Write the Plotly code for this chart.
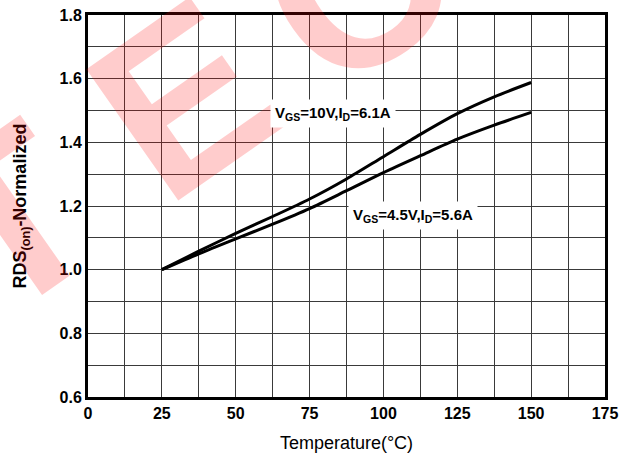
import plotly.graph_objects as go

temps = [25, 37.5, 50, 62.5, 75, 87.5, 100, 112.5, 125, 137.5, 150]
rds_10v = [1.000, 1.058, 1.114, 1.167, 1.222, 1.285, 1.355, 1.425, 1.490, 1.543, 1.588]
rds_45v = [1.000, 1.050, 1.097, 1.143, 1.192, 1.248, 1.305, 1.358, 1.410, 1.454, 1.494]

x_ticks = [0, 25, 50, 75, 100, 125, 150, 175]
y_ticks = [0.6, 0.8, 1.0, 1.2, 1.4, 1.6, 1.8]
y_tick_text = ["0.6", "0.8", "1.0", "1.2", "1.4", "1.6", "1.8"]

label_10v = "V<sub>GS</sub>=10V,I<sub>D</sub>=6.1A"
label_45v = "V<sub>GS</sub>=4.5V,I<sub>D</sub>=5.6A"

# watermark letters and their centres (paper coords)
wm_letters = ["T", "E", "C"]
wm_x = [-0.152, 0.182, 0.515]
wm_y = [0.466, 0.780, 1.076]

fig = go.Figure()
for ys in (rds_10v, rds_45v):
    fig.add_trace(go.Scatter(x=temps, y=ys, mode="lines",
                             line=dict(color="black", width=3, shape="spline", smoothing=0.8),
                             showlegend=False, hoverinfo="skip"))

font_b = dict(family="Liberation Sans, Arial, sans-serif", color="black")

annotations = []
for ch, px, py in zip(wm_letters, wm_x, wm_y):
    annotations.append(dict(text="<b>" + ch + "</b>", xref="paper", yref="paper", x=px, y=py,
                            xanchor="center", yanchor="middle", showarrow=False, textangle=-35,
                            font=dict(size=233, family="Liberation Sans, Arial, sans-serif",
                                      color="rgba(255,0,0,0.2)")))
annotations += [
    dict(text=label_10v, x=83, y=1.49, xref="x", yref="y", showarrow=False,
         bgcolor="white", borderpad=4, font=dict(size=15, **font_b, weight="bold")),
    dict(text=label_45v, x=110, y=1.17, xref="x", yref="y", showarrow=False,
         bgcolor="white", borderpad=4, font=dict(size=15, **font_b, weight="bold")),
]

fig.update_layout(
    width=635, height=457,
    margin=dict(l=88, r=30, t=15, b=60),
    paper_bgcolor="white", plot_bgcolor="white",
    xaxis=dict(range=[0, 175], tickvals=x_ticks, ticks="", showline=True, linewidth=3,
               linecolor="black", mirror=True, showgrid=True, gridcolor="#3a3a3a", gridwidth=1,
               zeroline=False, automargin=False,
               minor=dict(dtick=12.5, showgrid=True, gridcolor="#3a3a3a", gridwidth=1),
               tickfont=dict(size=16, **font_b, weight="bold"),
               title=dict(text="Temperature(°C)", font=dict(size=18, family="Liberation Sans, Arial, sans-serif", color="black"), standoff=16)),
    yaxis=dict(range=[0.6, 1.8], tickvals=y_ticks, ticktext=y_tick_text, ticks="", showline=True,
               linewidth=3, linecolor="black", mirror=True, showgrid=True, gridcolor="#3a3a3a",
               gridwidth=1, zeroline=False, automargin=False,
               minor=dict(dtick=0.1, showgrid=True, gridcolor="#3a3a3a", gridwidth=1),
               tickfont=dict(size=16, **font_b, weight="bold"),
               title=dict(text="RDS<sub>(on)</sub>-Normalized", font=dict(size=18, **font_b, weight="bold"), standoff=29)),
    annotations=annotations,
)

fig.write_html("out.html")
